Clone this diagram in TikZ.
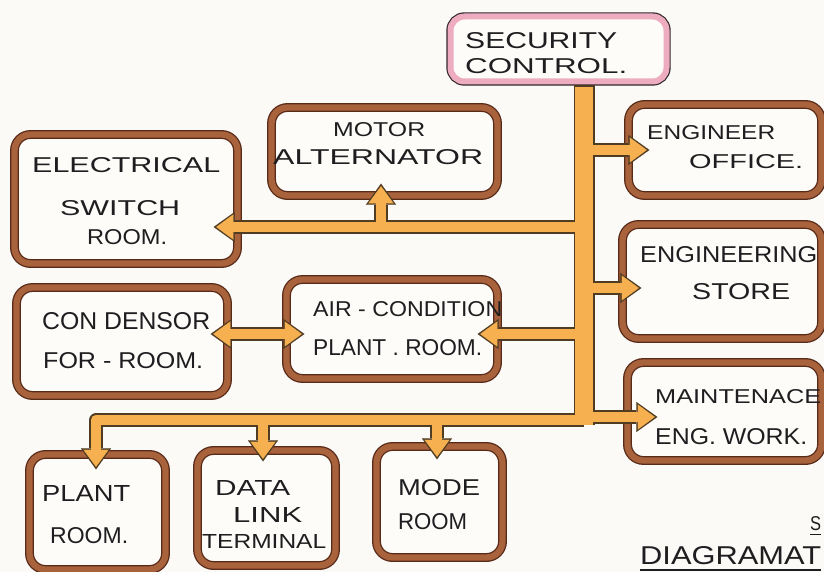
\documentclass[tikz,border=0pt]{standalone}
\usepackage{fontspec}
\setmainfont{Liberation Sans}
\usepackage{graphicx}
\usetikzlibrary{arrows.meta,calc}
\definecolor{paper}{RGB}{251,250,246}
\definecolor{boxfill}{RGB}{253,252,249}
\definecolor{bband}{RGB}{168,98,60}
\definecolor{bdark}{RGB}{88,42,24}
\definecolor{pband}{RGB}{238,172,192}
\definecolor{sdark}{RGB}{50,40,45}
\definecolor{pipecol}{RGB}{246,176,80}
\definecolor{pipedark}{RGB}{80,60,35}
\definecolor{ink}{RGB}{30,30,32}
\newcommand\handtxt[3]{\resizebox{#1pt}{#2pt}{#3}}
\tikzset{
 brownbox/.style={draw=bdark, double=bband, line width=1.3pt, double distance=6.3pt, fill=boxfill, rounded corners=16pt, inner sep=0pt},
 secbox/.style={fill=boxfill, draw=pband, line width=6pt, rounded corners=14pt, inner sep=0pt, preaction={draw=sdark, line width=8.4pt}},
 lbl/.style={anchor=west, inner sep=0pt, text=ink},
 trunkout/.style={draw=pipedark, line width=21pt},
 trunkin/.style={draw=pipecol, line width=18pt, shorten <=2pt},
 pipeout/.style={draw=pipedark, line width=13.5pt, line join=round, >={Triangle[length=21pt,width=30pt,line width=0.1pt]}},
 pipein/.style={draw=pipecol, line width=10.5pt, line join=round, shorten >=2.6pt, shorten <=2.6pt, >={Triangle[length=17pt,width=25pt,line width=0.1pt]}},
}
\newcommand\pipenet[2]{%
 \draw[#1] (top) -- (bot);
 \draw[#2,->] (j1) -- (t1);
 \draw[#2,->] (j2) -- (t2);
 \draw[#2,->] (j3) -- (t3);
 \draw[#2,->] (j4) -- (t4);
 \draw[#2,->] (j5) -- (t5);
 \draw[#2,<->] (t6a) -- (t6b);
 \draw[#2,->] (j7) -- (t7);
 \draw[#2,->] (j8) -- (c8) -- (t8);
 \draw[#2,->] (j9) -- (t9);
 \draw[#2,->] (j10) -- (t10);
}
\begin{document}
\begin{tikzpicture}[x=1pt,y=-1pt]
\fill[paper] (0,0) rectangle (824,572);
\useasboundingbox (0,0) rectangle (824,572);
% boxes
\node[secbox, minimum width=216pt, minimum height=65pt] (sec) at (558.5,49) {};
\node[brownbox, minimum width=226pt, minimum height=88pt] (motor) at (384.5,151.5) {};
\node[brownbox, minimum width=193pt, minimum height=91pt] (engoff) at (725,150) {};
\node[brownbox, minimum width=223pt, minimum height=129pt] (elec) at (126,199) {};
\node[brownbox, minimum width=199pt, minimum height=114pt] (store) at (722,281.5) {};
\node[brownbox, minimum width=211pt, minimum height=108pt] (cond) at (122,341.5) {};
\node[brownbox, minimum width=211pt, minimum height=99pt] (aircon) at (392,329) {};
\node[brownbox, minimum width=194pt, minimum height=98pt] (maint) at (724.5,411.5) {};
\node[brownbox, minimum width=136pt, minimum height=115pt] (plant) at (97.5,512) {};
\node[brownbox, minimum width=138pt, minimum height=115pt] (data) at (266.5,508) {};
\node[brownbox, minimum width=126pt, minimum height=111pt] (mode) at (439.5,502) {};
% connector points
\coordinate (top) at ([xshift=25.5pt,yshift=-1pt]sec.south);
\coordinate (bot) at (584,425);
\coordinate (j1) at (584,150);
\coordinate (t1) at ([xshift=21.5pt]engoff.west);
\coordinate (j2) at (584,227);
\coordinate (t2) at ($(elec.east |- j2)+(-24.5,0)$);
\coordinate (j3) at (381,227);
\coordinate (t3) at ($(j3 |- motor.south)+(0,-12.5)$);
\coordinate (j4) at (584,288);
\coordinate (t4) at ($(store.west |- j4)+(19.5,0)$);
\coordinate (j5) at (584,334);
\coordinate (t5) at ($(aircon.east |- j5)+(-20.5,0)$);
\coordinate (t6a) at ($(cond.east |- j5)+(-17.5,0)$);
\coordinate (t6b) at ($(aircon.west |- j5)+(18.5,0)$);
\coordinate (j7) at (584,417);
\coordinate (t7) at ($(maint.west |- j7)+(30.5,0)$);
\coordinate (j8) at (584,420);
\coordinate (c8) at (96,420);
\coordinate (t8) at ($(c8 |- plant.north)+(0,15.5)$);
\coordinate (j9) at (263,420);
\coordinate (t9) at ($(j9 |- data.north)+(0,11.5)$);
\coordinate (j10) at (437,420);
\coordinate (t10) at ($(j10 |- mode.north)+(0,13.5)$);
\pipenet{trunkout}{pipeout}
\pipenet{trunkin}{pipein}
% labels
\node[lbl] (secA) at (465,41) {\handtxt{152}{16}{SECURITY}};
\node[lbl] (secB) at (465,66) {\handtxt{162}{15}{CONTROL.}};
\node[lbl] (motA) at (333,130) {\handtxt{92}{14}{MOTOR}};
\node[lbl] (motB) at (273,157) {\handtxt{210}{15}{ALTERNATOR}};
\node[lbl] (engA) at (647,133) {\handtxt{128}{14}{ENGINEER}};
\node[lbl] (engB) at (689,162) {\handtxt{114}{14}{OFFICE.}};
\node[lbl] (elA) at (32,165) {\handtxt{188}{15}{ELECTRICAL}};
\node[lbl] (elB) at (60,208) {\handtxt{120}{15}{SWITCH}};
\node[lbl] (elC) at (87,237) {\handtxt{80}{15}{ROOM.}};
\node[lbl] (stA) at (640,255) {\handtxt{177}{16}{ENGINEERING}};
\node[lbl] (stB) at (692,292) {\handtxt{98}{16}{STORE}};
\node[lbl] (coA) at (42,321) {\handtxt{168}{17}{CON DENSOR}};
\node[lbl] (coB) at (43,361) {\handtxt{160}{16}{FOR - ROOM.}};
\node[lbl] (acA) at (313,309) {\handtxt{189}{15}{AIR - CONDITION}};
\node[lbl] (acB) at (313,348) {\handtxt{169}{16}{PLANT . ROOM.}};
\node[lbl] (mnA) at (655,397) {\handtxt{166}{14}{MAINTENACE}};
\node[lbl] (mnB) at (655,437) {\handtxt{152}{16}{ENG. WORK.}};
\node[lbl] (plA) at (42,493) {\handtxt{88}{16}{PLANT}};
\node[lbl] (plB) at (50,536) {\handtxt{78}{16}{ROOM.}};
\node[lbl] (dtA) at (215,488) {\handtxt{75}{15}{DATA}};
\node[lbl] (dtB) at (233,515) {\handtxt{69}{15}{LINK}};
\node[lbl] (dtC) at (202,541) {\handtxt{124}{14}{TERMINAL}};
\node[lbl] (mdA) at (398,488) {\handtxt{82}{16}{MODE}};
\node[lbl] (mdB) at (398,522) {\handtxt{69}{16}{ROOM}};
\node[lbl] (title) at (640,556) {\handtxt{181}{18}{DIAGRAMAT}};
\draw[ink, line width=1.8pt] ([yshift=-5pt]title.south west) -- ([yshift=-5pt]title.south east);
\node[lbl] (titleS) at (810,524) {\handtxt{11}{14}{S}};
\draw[ink, line width=1.5pt] ([yshift=-3pt]titleS.south west) -- ([yshift=-3pt]titleS.south east);
\end{tikzpicture}
\end{document}
